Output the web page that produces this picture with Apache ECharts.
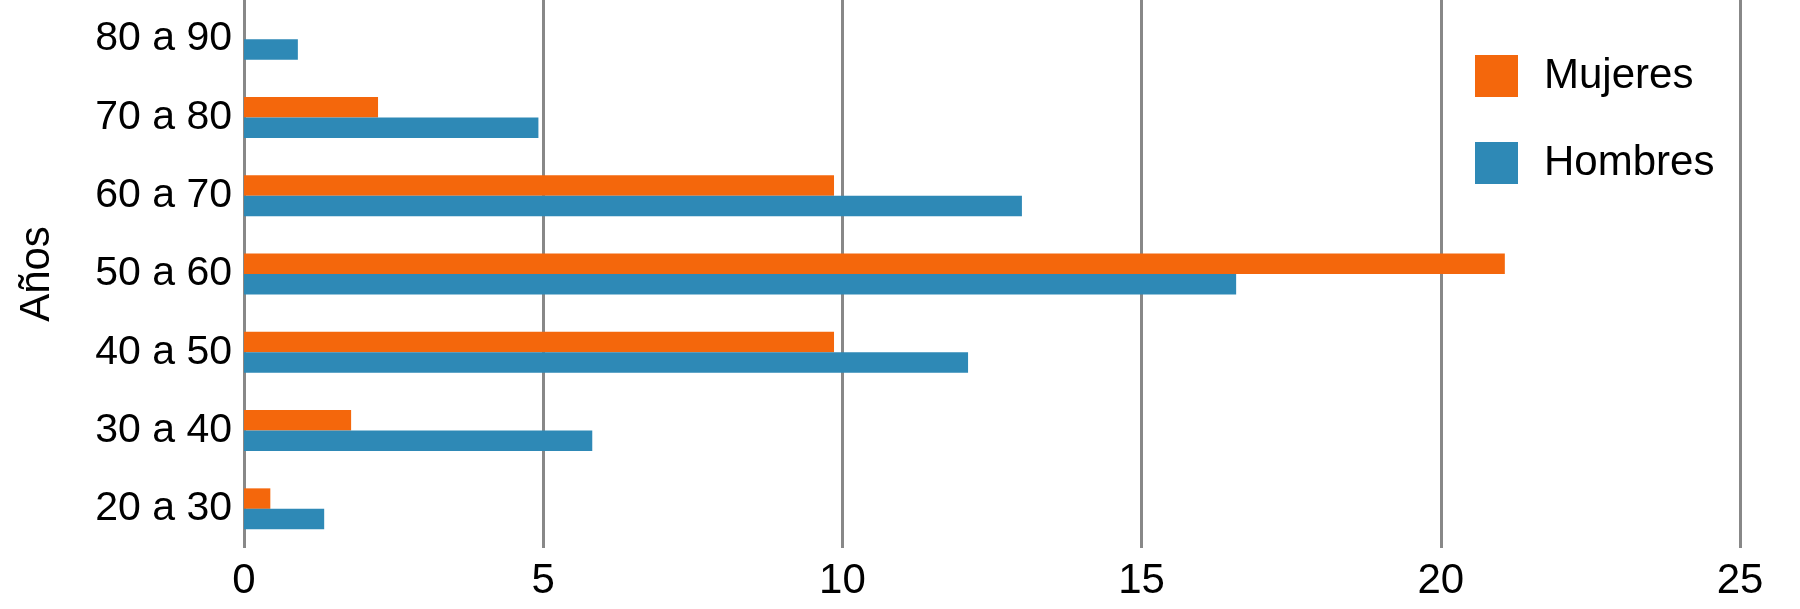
<!DOCTYPE html>
<html>
<head>
<meta charset="utf-8">
<script src="https://cdn.jsdelivr.net/npm/echarts@6/dist/echarts.min.js"></script>
<style>
  html, body { margin: 0; padding: 0; background: #fff; }
  #chart { width: 1800px; height: 609px; }
</style>
</head>
<body>
<div id="chart"></div>
<script>
// grupos de edad (de abajo hacia arriba)
const categories = ['20 a 30', '30 a 40', '40 a 50', '50 a 60', '60 a 70', '70 a 80', '80 a 90']
const mujeres = [0.44, 1.79, 9.86, 21.07, 9.86, 2.24, 0]
const hombres = [1.34, 5.82, 12.1, 16.58, 13.0, 4.92, 0.9]
const xTicks = [0, 5, 10, 15, 20, 25]

const chart = echarts.init(document.getElementById('chart'))
const font = 'Liberation Sans, Arial, sans-serif'

const option = {
  animation: false,
  textStyle: { fontFamily: font },
  grid: {
    left: 244,
    right: 60,
    top: 0,
    bottom: 61
  },
  legend: {
    orient: 'vertical',
    left: 1470,
    top: 50,
    itemWidth: 43,
    itemHeight: 42,
    itemGap: 45,
    icon: 'rect',
    data: ['Mujeres', 'Hombres'],
    textStyle: {
      fontSize: 42,
      color: '#000',
      fontFamily: font,
      lineHeight: 42,
      padding: [0, 0, 0, 21]
    }
  },
  xAxis: {
    type: 'value',
    min: xTicks[0],
    max: xTicks[xTicks.length - 1],
    interval: 5,
    axisLine: { show: false },
    axisTick: { show: false },
    axisLabel: {
      fontSize: 42,
      color: '#000',
      margin: 12,
      fontFamily: font
    },
    splitLine: {
      show: true,
      lineStyle: { color: '#888888', width: 3 }
    }
  },
  yAxis: {
    type: 'category',
    data: categories,
    name: 'Años',
    nameLocation: 'middle',
    nameGap: 186,
    nameTextStyle: { fontSize: 42, color: '#000', fontFamily: font },
    axisLine: { show: false },
    axisTick: { show: false },
    axisLabel: {
      fontSize: 41,
      color: '#000',
      margin: 12,
      fontFamily: font
    }
  },
  series: [
    {
      name: 'Mujeres',
      type: 'bar',
      data: mujeres,
      barWidth: 20.5,
      barGap: '0%',
      itemStyle: { color: '#f4670c' }
    },
    {
      name: 'Hombres',
      type: 'bar',
      data: hombres,
      barWidth: 20.5,
      barGap: '0%',
      itemStyle: { color: '#2e89b6' }
    }
  ]
}
chart.setOption(option)
</script>
</body>
</html>
